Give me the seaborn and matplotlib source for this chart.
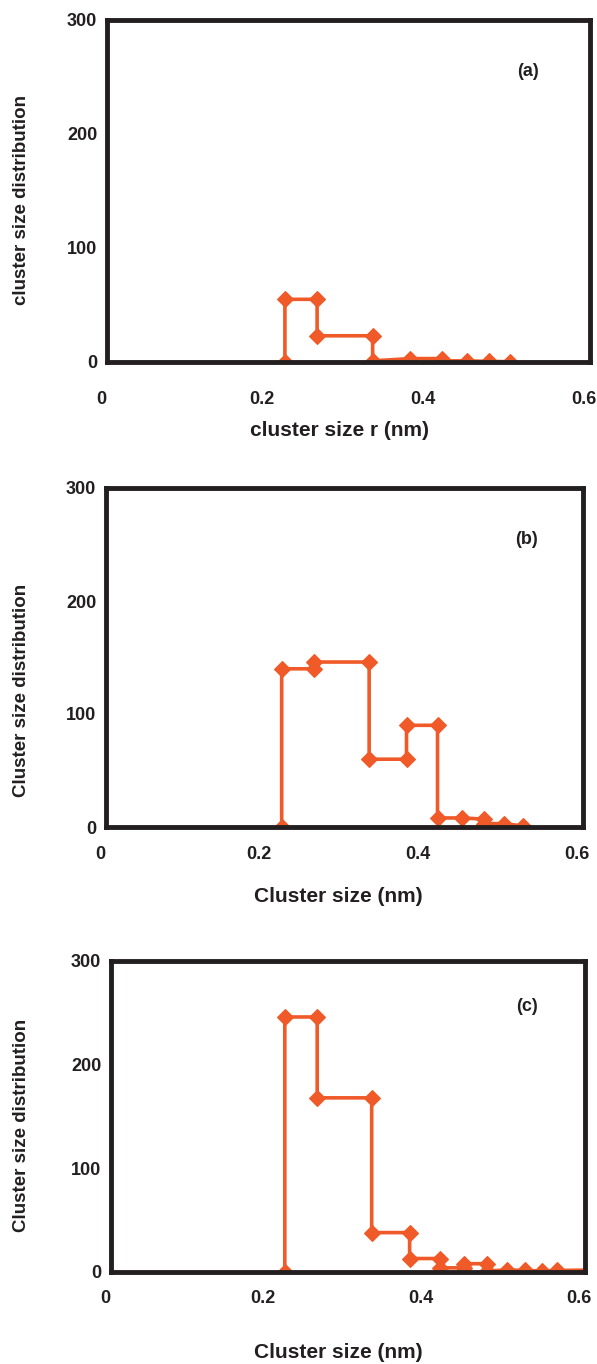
import matplotlib
matplotlib.use("Agg")
import matplotlib.pyplot as plt
import matplotlib.transforms as mtransforms
import seaborn as sns
import pandas as pd

# --- 0. DATEN ---
# Stufenkurven: jeder Eckpunkt der Treppe ist ein Datenpunkt
x_a = [0.221, 0.221, 0.261, 0.261, 0.330, 0.330, 0.377, 0.416, 0.416, 0.447, 0.475, 0.501]
y_a = [0, 55, 55, 23, 23, 1, 3, 3, 1, 1, 0.5, 0.3]

x_b = [0.221, 0.221, 0.262, 0.262, 0.331, 0.331, 0.378, 0.378, 0.417, 0.417, 0.448, 0.475, 0.475, 0.500, 0.524]
y_b = [0, 140, 140, 146, 146, 60, 60, 90, 90, 8, 8, 7, 3, 3, 1]

x_c = [0.220, 0.220, 0.261, 0.261, 0.330, 0.330, 0.378, 0.378, 0.416, 0.416, 0.447, 0.447,
       0.476, 0.476, 0.501, 0.524, 0.545, 0.564, 0.620]
y_c = [0, 246, 246, 168, 168, 38, 38, 13, 13, 4, 4, 8, 8, 1, 2, 1.5, 1, 1.5, 2]

x_ticks = [0, 0.2, 0.4, 0.6]
x_ticklabels = ["0", "0.2", "0.4", "0.6"]
y_ticks = [0, 100, 200, 300]
y_ticklabels = ["0", "100", "200", "300"]

panel_tags = ["(a)", "(b)", "(c)"]
x_titles = ["cluster size r (nm)", "Cluster size (nm)", "Cluster size (nm)"]
y_titles = ["cluster size distribution", "Cluster size distribution", "Cluster size distribution"]

# --- 1. LAYOUT (Pixel im Referenzbild) ---
W, H = 597, 1364
# (links, oben, rechts, unten) der Achsenrahmen
boxes = [(107, 20, 590, 362), (106, 488, 583, 827), (111, 961, 585, 1272)]
xlabel_pos = [(339, 431), (338, 896), (338, 1353)]
ylabel_pos = [(22, 200), (22, 690), (22, 1125)]
tag_pos = [(528, 71), (526, 540), (527, 1007)]
xlabel_size = [15, 15, 15]
xtick_pad = [21, 14, 13]

line_color = "#F05A28"
frame_color = "#231F20"

sns.set_theme(style="white")
plt.rcParams['font.family'] = ['Liberation Sans', 'DejaVu Sans']
plt.rcParams['font.weight'] = 'bold'

fig = plt.figure(figsize=(W / 100, H / 100), dpi=100)
# Zahlen an der x-Achse stehen im Original etwas links von den Strichen
shift = mtransforms.ScaledTranslation(-6 / 100, 0, fig.dpi_scale_trans)

series = [(x_a, y_a), (x_b, y_b), (x_c, y_c)]
for i, (xs, ys) in enumerate(series):
    l, t, r, b = boxes[i]
    ax = fig.add_axes([l / W, 1 - b / H, (r - l) / W, (b - t) / H])
    df = pd.DataFrame({'r': xs, 'n': ys})
    sns.lineplot(data=df, x='r', y='n', ax=ax, sort=False, estimator=None,
                 color=line_color, linewidth=2.6, marker='D', markersize=8,
                 markeredgewidth=0.8, markeredgecolor=line_color)
    ax.set_xlim(0, 0.6)
    ax.set_ylim(0, 300)
    ax.set_xticks(x_ticks)
    ax.set_xticklabels(x_ticklabels)
    ax.set_yticks(y_ticks)
    ax.set_yticklabels(y_ticklabels)
    ax.tick_params(axis='both', direction='in', length=4, width=2, color=frame_color,
                   labelsize=13, labelcolor=frame_color)
    ax.tick_params(axis='x', pad=xtick_pad[i])
    ax.tick_params(axis='y', pad=7)
    for lab in ax.get_xticklabels():
        lab.set_fontweight('bold')
        lab.set_transform(lab.get_transform() + shift)
    for lab in ax.get_yticklabels():
        lab.set_fontweight('bold')
    for sp in ax.spines.values():
        sp.set_visible(True)
        sp.set_color(frame_color)
        sp.set_linewidth(3.5)
    ax.set_xlabel('')
    ax.set_ylabel('')
    ax.text((tag_pos[i][0] - l) / (r - l), (b - tag_pos[i][1]) / (b - t), panel_tags[i],
            transform=ax.transAxes, ha='center', va='center', fontsize=13,
            fontweight='bold', color=frame_color)

    fig.text(xlabel_pos[i][0] / W, 1 - xlabel_pos[i][1] / H, x_titles[i],
             ha='center', va='center', fontsize=xlabel_size[i], fontweight='bold',
             color=frame_color)
    fig.text(ylabel_pos[i][0] / W, 1 - ylabel_pos[i][1] / H, y_titles[i], rotation=90,
             ha='center', va='center', fontsize=13.5, fontweight='bold', color=frame_color)

fig.savefig('out.png', dpi=100)
